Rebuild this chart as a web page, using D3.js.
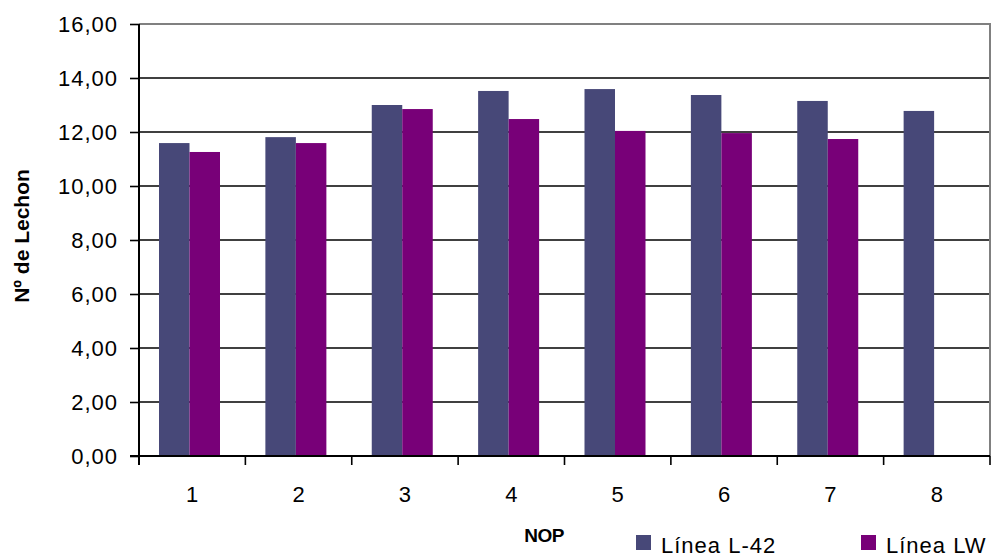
<!DOCTYPE html>
<html>
<head>
<meta charset="utf-8">
<script src="https://cdn.jsdelivr.net/npm/d3@7"></script>
<style>
  html, body { margin: 0; padding: 0; background: #fff; }
  svg { display: block; font-family: "Liberation Sans", Arial, sans-serif; }
</style>
</head>
<body>
<svg id="chart" width="992" height="559"></svg>
<script>
// Number of piglets per parity (NOP) for the two genetic lines
const categories = ["1", "2", "3", "4", "5", "6", "7", "8"];
const seriesNames = ["Línea L-42", "Línea LW"];
const lineL42 = [11.59, 11.81, 13.00, 13.52, 13.59, 13.37, 13.15, 12.78];
const lineLW = [11.26, 11.59, 12.85, 12.48, 12.04, 11.96, 11.74, null];
const yTicks = [0, 2, 4, 6, 8, 10, 12, 14, 16];
const colors = ["#474878", "#780078"];

const svg = d3.select("#chart");
const plotLeft = 139, plotRight = 990, plotTop = 24, plotBottom = 456;

const x = d3.scaleBand().domain(categories).range([plotLeft, plotRight]).padding(0);
const xSub = d3.scaleBand().domain(seriesNames).range([0, 61]).padding(0);
const groupOffset = 20;
const y = d3.scaleLinear().domain([0, 16]).range([plotBottom, plotTop]);

const values = [lineL42, lineLW];

// horizontal gridlines
svg.append("g")
  .selectAll("line")
  .data(yTicks.filter(t => t > 0 && t < 16))
  .join("line")
  .attr("x1", plotLeft).attr("x2", plotRight)
  .attr("y1", d => y(d)).attr("y2", d => y(d))
  .attr("stroke", "#000").attr("stroke-width", 1.6);

// plot area border (top and right)
svg.append("path")
  .attr("d", `M${plotLeft},${y(16)}H${plotRight}V${plotBottom}`)
  .attr("fill", "none").attr("stroke", "#808080").attr("stroke-width", 2);

// bars
seriesNames.forEach((name, si) => {
  svg.append("g")
    .selectAll("rect")
    .data(categories.map((c, i) => ({ c, v: values[si][i] })).filter(d => d.v != null))
    .join("rect")
    .attr("x", d => x(d.c) + groupOffset + xSub(name))
    .attr("width", xSub.bandwidth())
    .attr("y", d => y(d.v))
    .attr("height", d => y(0) - y(d.v))
    .attr("fill", colors[si]);
});

// y axis
const yAxis = d3.axisLeft(y)
  .tickValues(yTicks)
  .tickSize(9)
  .tickPadding(12)
  .tickFormat(d => d3.format(".2f")(d).replace(".", ","));
const gy = svg.append("g").attr("transform", `translate(${plotLeft},0)`).call(yAxis);
gy.select(".domain").attr("stroke", "#000").attr("stroke-width", 2).attr("d", `M0,${plotTop}V${plotBottom + 9}`);
gy.selectAll(".tick line").attr("stroke", "#000").attr("stroke-width", 1.6);
gy.selectAll(".tick text")
  .attr("font-size", 22).attr("fill", "#000")
  .attr("letter-spacing", 1)
  .attr("font-family", "'Liberation Sans', Arial, sans-serif");

// x axis with ticks between categories
const gx = svg.append("g").attr("transform", `translate(0,${plotBottom})`);
gx.append("line")
  .attr("x1", plotLeft - 9).attr("x2", plotRight)
  .attr("y1", 0).attr("y2", 0)
  .attr("stroke", "#000").attr("stroke-width", 2);
gx.selectAll("line.tick")
  .data(categories.concat(["end"]))
  .join("line")
  .attr("class", "tick")
  .attr("x1", (d, i) => plotLeft + i * x.step())
  .attr("x2", (d, i) => plotLeft + i * x.step())
  .attr("y1", 0).attr("y2", 9)
  .attr("stroke", "#000").attr("stroke-width", 1.6);
gx.selectAll("text")
  .data(categories)
  .join("text")
  .attr("x", d => x(d) + x.bandwidth() / 2)
  .attr("y", 46)
  .attr("text-anchor", "middle")
  .attr("font-size", 22)
  .attr("fill", "#000")
  .text(d => d);

// axis titles
svg.append("text")
  .attr("transform", `translate(29,236) rotate(-90)`)
  .attr("text-anchor", "middle")
  .attr("font-size", 21).attr("font-weight", "bold")
  .text("Nº de Lechon");

svg.append("text")
  .attr("x", 544).attr("y", 542)
  .attr("text-anchor", "middle")
  .attr("font-size", 19).attr("font-weight", "bold")
  .attr("letter-spacing", -0.5)
  .text("NOP");

// legend
const legendX = [636, 861];
seriesNames.forEach((name, i) => {
  const g = svg.append("g").attr("transform", `translate(${legendX[i]},535)`);
  g.append("rect").attr("width", 15).attr("height", 15).attr("fill", colors[i]);
  g.append("text")
    .attr("x", 25).attr("y", 18)
    .attr("font-size", 22).attr("fill", "#000")
    .attr("letter-spacing", 1)
    .text(name);
});
</script>
</body>
</html>
